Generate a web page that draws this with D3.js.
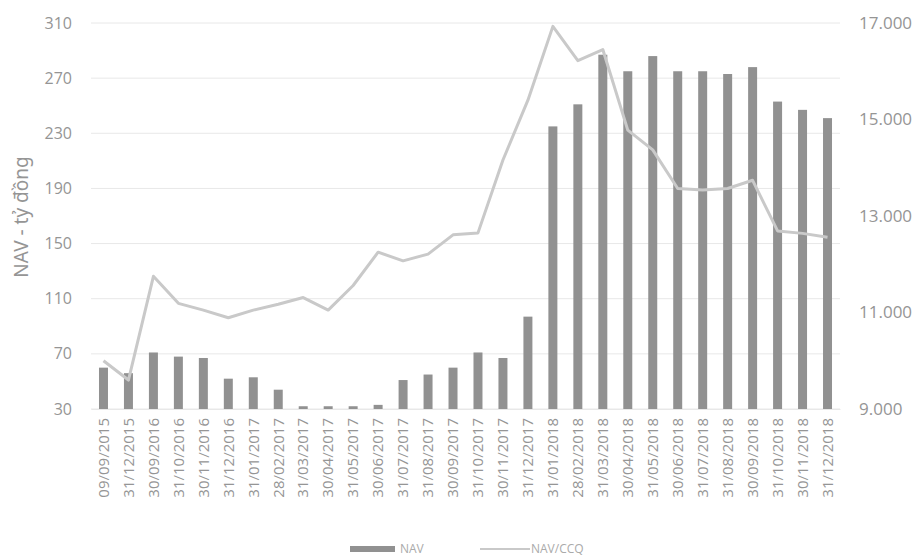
<!DOCTYPE html>
<html>
<head>
<meta charset="utf-8">
<script src="https://cdn.jsdelivr.net/npm/d3@7/dist/d3.min.js"></script>
<style>
  html, body { margin: 0; padding: 0; background: #ffffff; }
  svg { display: block; font-family: "Open Sans", "Noto Sans", sans-serif; }
</style>
</head>
<body>
<svg id="chart" width="920" height="560"></svg>
<script>
// Reporting dates
const dates = [
  "09/09/2015", "31/12/2015", "30/09/2016", "31/10/2016", "30/11/2016",
  "31/12/2016", "31/01/2017", "28/02/2017", "31/03/2017", "30/04/2017",
  "31/05/2017", "30/06/2017", "31/07/2017", "31/08/2017", "30/09/2017",
  "31/10/2017", "30/11/2017", "31/12/2017", "31/01/2018", "28/02/2018",
  "31/03/2018", "30/04/2018", "31/05/2018", "30/06/2018", "31/07/2018",
  "31/08/2018", "30/09/2018", "31/10/2018", "30/11/2018", "31/12/2018"
];

// Net asset value, billion VND (left axis)
const nav = [
  60, 56, 71, 68, 67, 52, 53, 44, 32, 32,
  32, 33, 51, 55, 60, 71, 67, 97, 235, 251,
  287, 275, 286, 275, 275, 273, 278, 253, 247, 241
];

// NAV per fund certificate, VND (right axis)
const navPerUnit = [
  10000, 9600, 11750, 11190, 11050, 10890, 11050, 11170, 11310, 11050,
  11560, 12250, 12070, 12210, 12610, 12650, 14160, 15400, 16930, 16220,
  16450, 14780, 14370, 13570, 13540, 13570, 13740, 12690, 12640, 12560
];

const leftTicks = [30, 70, 110, 150, 190, 230, 270, 310];
const rightTicks = [9000, 11000, 13000, 15000, 17000];

const svg = d3.select("#chart");
const margin = { left: 91, right: 80, top: 23, bottom: 151 };
const W = 920, H = 560;
const x0 = margin.left, x1 = W - margin.right;
const y0 = H - margin.bottom, y1 = margin.top;

const textColor = "#959595";
const barColor = "#919191";
const lineColor = "#c9c9c9";
const gridColor = "#e8e8e8";

const x = d3.scaleBand().domain(dates).range([x0, x1]).paddingInner(0.64).paddingOuter(0.32);
const yL = d3.scaleLinear().domain([30, 310]).range([y0, y1]);
const yR = d3.scaleLinear().domain([9000, 17000]).range([y0, y1]);

// Horizontal gridlines
svg.append("g")
  .selectAll("line")
  .data(leftTicks)
  .join("line")
  .attr("x1", x0).attr("x2", x1)
  .attr("y1", d => yL(d)).attr("y2", d => yL(d))
  .attr("stroke", gridColor).attr("stroke-width", 1);

// Left axis
const fmtL = d3.format("d");
const axL = svg.append("g")
  .attr("transform", `translate(${x0 - 19},0)`)
  .call(d3.axisLeft(yL).tickValues(leftTicks).tickFormat(fmtL).tickSize(0).tickPadding(0));
axL.select(".domain").remove();
axL.selectAll("text").attr("fill", textColor).style("font-size", "16px").style("font-family", "'Open Sans', sans-serif");

// Right axis (thousands separated by dots)
const fmtR = d => d3.format(",")(d).replace(/,/g, ".");
const axR = svg.append("g")
  .attr("transform", `translate(${x1 + 19},0)`)
  .call(d3.axisRight(yR).tickValues(rightTicks).tickFormat(fmtR).tickSize(0).tickPadding(0));
axR.select(".domain").remove();
axR.selectAll("text").attr("fill", textColor).style("font-size", "17px").style("font-family", "'Open Sans', sans-serif");

// Bottom axis with rotated date labels
const axB = svg.append("g")
  .attr("transform", `translate(0,${y0})`)
  .call(d3.axisBottom(x).tickSize(0).tickPadding(0));
axB.select(".domain").attr("stroke", gridColor);
axB.selectAll("text")
  .attr("fill", textColor)
  .style("font-size", "15px")
  .style("font-family", "'Open Sans', sans-serif")
  .attr("transform", "rotate(-90)")
  .attr("text-anchor", "end")
  .attr("dx", "-9px")
  .attr("dy", "0.35em")
  .attr("x", 0).attr("y", 0);

// NAV bars
svg.append("g")
  .selectAll("rect")
  .data(nav)
  .join("rect")
  .attr("x", (d, i) => x(dates[i]))
  .attr("width", x.bandwidth())
  .attr("y", d => yL(d))
  .attr("height", d => yL(30) - yL(d))
  .attr("fill", barColor);

// NAV per unit line
const line = d3.line()
  .x((d, i) => x(dates[i]) + x.bandwidth() / 2)
  .y(d => yR(d));
svg.append("path")
  .datum(navPerUnit)
  .attr("d", line)
  .attr("fill", "none")
  .attr("stroke", lineColor)
  .attr("stroke-width", 3)
  .attr("stroke-linejoin", "round");

// Left axis title
svg.append("text")
  .attr("transform", `translate(28,217) rotate(-90)`)
  .attr("text-anchor", "middle")
  .attr("fill", textColor)
  .style("font-size", "19px")
  .style("font-family", "'Noto Sans', sans-serif")
  .text("NAV - tỷ đồng");

// Legend
const leg = svg.append("g").attr("transform", "translate(350,549)");
leg.append("rect").attr("x", 0).attr("y", -3).attr("width", 45).attr("height", 6).attr("fill", barColor);
leg.append("text").attr("x", 50).attr("y", 4).attr("fill", "#aaaaaa").style("font-size", "12px").text("NAV");
leg.append("line").attr("x1", 130).attr("x2", 180).attr("y1", 0).attr("y2", 0)
  .attr("stroke", lineColor).attr("stroke-width", 2);
leg.append("text").attr("x", 181).attr("y", 4).attr("fill", "#aaaaaa").style("font-size", "12px").text("NAV/CCQ");
</script>
</body>
</html>
